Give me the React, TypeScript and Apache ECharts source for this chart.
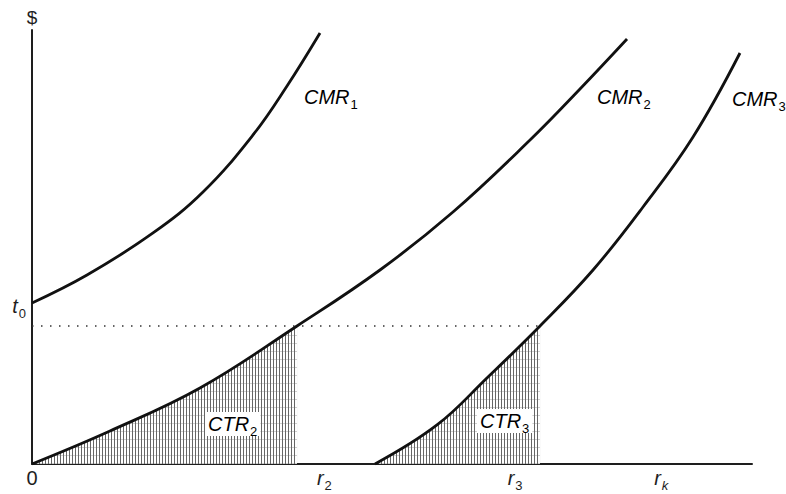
import { useEffect, useRef } from 'react';
import * as echarts from 'echarts';

// Curves: [quantity, $] in axis units (x 0–100, y 0–100)
const cmr1: [number, number][] = [[0, 37.1], [7.64, 43.55], [16.81, 53.23], [23.75, 62.67], [30.69, 75.81], [35.42, 87.1], [40.0, 99.31]];
const cmr2: [number, number][] = [[0, 0], [10.83, 7.6], [23.33, 17.51], [36.81, 31.8], [48.33, 44.7], [58.47, 58.06], [69.17, 74.65], [76.11, 86.41], [82.64, 97.93]];
const cmr3: [number, number][] = [[47.64, 0], [56.25, 8.99], [63.19, 19.82], [70.56, 31.8], [77.92, 44.7], [84.86, 59.22], [91.81, 75.35], [98.33, 94.7]];

// Shaded areas: the parts of CMR2 and CMR3 up to r2 and r3
const ctr2 = cmr2.slice(0, 4);
const ctr3 = cmr3.slice(0, 4);

// Dotted level line joining the two shaded areas' tops
const dottedLevel: [number, number][] = [[0, 31.8], [70.56, 31.8]];

// Tick labels
const xLabelValues = [0, 40.6, 67.1, 87.4];
const xLabelTexts = ['{n|0}', '{i|r}{s|2}', '{i|r}{s|3}', '{i|r}{sk|k}'];
const yLabelValues = [36.2];
const yLabelTexts = ['{i|t}{s|0}'];

const F = "'Liberation Sans', Arial, Helvetica, sans-serif";
const INK = '#1e1e1e';

const rich: any = {
  i: { fontFamily: F, fontSize: 20, fontStyle: 'italic', lineHeight: 22, verticalAlign: 'top', color: INK },
  n: { fontFamily: F, fontSize: 20, lineHeight: 22, verticalAlign: 'top', color: INK },
  s: { fontFamily: F, fontSize: 13, lineHeight: 14, padding: [11, 0, 0, 1], verticalAlign: 'top', color: INK },
  sk: { fontFamily: F, fontSize: 13, fontStyle: 'italic', lineHeight: 14, padding: [11, 0, 0, 1], verticalAlign: 'top', color: INK },
};

const xRich: any = {
  ...rich,
  s: { ...rich.s, lineHeight: 11, padding: [11, 0, 0, 1] },
  sk: { ...rich.sk, lineHeight: 11, padding: [11, 0, 0, 1] },
};

function pick(values: number[], texts: string[], v: number) {
  let best = 0;
  for (let k = 1; k < values.length; k++) {
    if (Math.abs(values[k] - v) < Math.abs(values[best] - v)) best = k;
  }
  return texts[best];
}

export default function App() {
  const ref = useRef<HTMLDivElement>(null);

  useEffect(() => {
    document.body.style.margin = '0';
    if (!ref.current) return;
    const chart = echarts.init(ref.current, null, { renderer: 'svg' });

    const c = document.createElement('canvas');
    c.width = 3;
    c.height = 8;
    const ctx = c.getContext('2d')!;
    ctx.fillStyle = '#ffffff';
    ctx.fillRect(0, 0, 3, 8);
    ctx.fillStyle = '#666666';
    ctx.fillRect(0, 0, 1, 8);
    ctx.fillStyle = '#d0d0d0';
    ctx.fillRect(1, 7, 2, 1);
    const hatch: any = { image: c, repeat: 'repeat', imageWidth: 3, imageHeight: 8 };

    const curve = (name: string, data: [number, number][]) => ({
      name,
      type: 'line',
      data,
      smooth: 0.4,
      symbol: 'none',
      z: 5,
      lineStyle: { color: '#111', width: 2.8 },
    });
    const area = (name: string, data: [number, number][]) => ({
      name,
      type: 'line',
      data,
      smooth: 0.4,
      symbol: 'none',
      z: 2,
      lineStyle: { width: 0, color: '#111' },
      areaStyle: { color: hatch, opacity: 1, origin: 'start' },
    });

    const labelStyle = (text: string, bg?: boolean) => ({
      text,
      rich,
      verticalAlign: 'top',
      align: 'left',
      ...(bg ? { backgroundColor: '#ffffff', padding: [2, 3, 0, 3] } : {}),
    });

    chart.setOption({
      animation: false,
      backgroundColor: '#ffffff',
      grid: { left: 32, right: 34, top: 30, bottom: 30, containLabel: false, outerBoundsMode: 'none' },
      xAxis: {
        type: 'value',
        min: 0,
        max: 100,
        axisLine: { show: true, onZero: false, lineStyle: { color: INK, width: 2 } },
        axisTick: { show: false },
        splitLine: { show: false },
        axisLabel: {
          customValues: xLabelValues,
          margin: 4,
          formatter: (v: number) => pick(xLabelValues, xLabelTexts, v),
          rich: xRich,
        },
      },
      yAxis: {
        type: 'value',
        min: 0,
        max: 100,
        name: '$',
        nameLocation: 'end',
        nameGap: 3,
        nameTextStyle: { fontFamily: F, fontSize: 19, color: INK, align: 'center' },
        axisLine: { show: true, onZero: false, lineStyle: { color: INK, width: 2 } },
        axisTick: { show: false },
        splitLine: { show: false },
        axisLabel: {
          customValues: yLabelValues,
          margin: 6,
          formatter: (v: number) => pick(yLabelValues, yLabelTexts, v),
          rich,
        },
      },
      series: [
        area('CTR2', ctr2),
        area('CTR3', ctr3),
        {
          name: 'level',
          type: 'line',
          data: dottedLevel,
          symbol: 'none',
          z: 3,
          lineStyle: { color: '#333', width: 1.5, type: [1.5, 7.5] },
        },
        curve('CMR1', cmr1),
        curve('CMR2', cmr2),
        curve('CMR3', cmr3),
      ],
      graphic: [
        { type: 'text', x: 304, y: 87, z: 10, style: labelStyle('{i|CMR}{s|1}') },
        { type: 'text', x: 597, y: 87, z: 10, style: labelStyle('{i|CMR}{s|2}') },
        { type: 'text', x: 732, y: 89, z: 10, style: labelStyle('{i|CMR}{s|3}') },
        { type: 'text', x: 205, y: 412, z: 10, style: labelStyle('{i|CTR}{s|2}', true) },
        { type: 'text', x: 477, y: 409, z: 10, style: labelStyle('{i|CTR}{s|3}', true) },
      ],
    });

    return () => chart.dispose();
  }, []);

  return <div ref={ref} style={{ width: 786, height: 494 }} />;
}
